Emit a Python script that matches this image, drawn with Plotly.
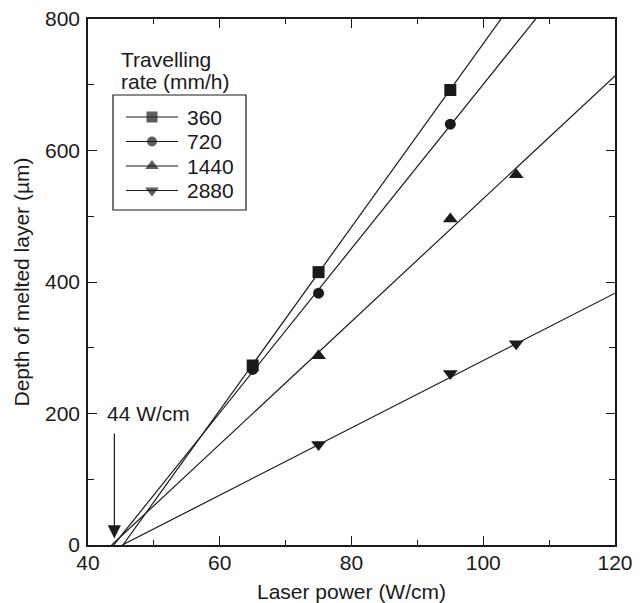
import plotly.graph_objects as go

# ---- data ----
rates = ["360", "720", "1440", "2880"]
power_360 = [65, 75, 95]
depth_360 = [273, 415, 692]
power_720 = [65, 75, 95]
depth_720 = [267, 383, 640]
power_1440 = [75, 95, 105]
depth_1440 = [288, 496, 563]
power_2880 = [75, 95, 105]
depth_2880 = [153, 261, 306]

# linear fits (x-intercept in W/cm, slope in um per W/cm)
fit_x0 = [45.3, 43.9, 43.6, 45.2]
fit_slope = [13.94, 12.49, 9.34, 5.12]

threshold_power = 44
x_range = [40, 120]
y_range = [0, 800]
x_ticks = [40, 60, 80, 100, 120]
y_ticks = [0, 200, 400, 600, 800]

powers = [power_360, power_720, power_1440, power_2880]
depths = [depth_360, depth_720, depth_1440, depth_2880]
symbols = ["square", "circle", "triangle-up", "triangle-down"]
sizes = [12, 11, 13, 13]

INK = "#1a1a1a"
FONT = "Liberation Sans, Arial, Helvetica, sans-serif"
FS = 21

# ---- layout geometry (pixels) ----
W, H = 644, 603
ML, MR, MT, MB = 88, 29, 19, 58
PW, PH = W - ML - MR, H - MT - MB


def px2x(px):
    return (px - ML) / PW


def py2y(py):
    return (H - MB - py) / PH


fig = go.Figure()

for i, r in enumerate(rates):
    # fitted line
    xs = [fit_x0[i], x_range[1]]
    ys = [fit_slope[i] * (x - fit_x0[i]) for x in xs]
    fig.add_trace(go.Scatter(x=xs, y=ys, mode="lines",
                             line=dict(color=INK, width=1.2),
                             hoverinfo="skip", name=r + " fit"))
    # measured points
    fig.add_trace(go.Scatter(x=powers[i], y=depths[i], mode="markers", name=r,
                             marker=dict(symbol=symbols[i], size=sizes[i], color=INK,
                                         line=dict(width=0)),
                             cliponaxis=False))

# ---- hand-drawn legend (overlay axes in plot-fraction units) ----
leg_box = (113, 95, 246, 210)
row0, row_gap = 117, 24.5
line_x0, line_x1, text_x = 126, 178, 185
for i, r in enumerate(rates):
    yy = py2y(row0 + i * row_gap)
    fig.add_trace(go.Scatter(
        x=[px2x(line_x0), px2x((line_x0 + line_x1) / 2), px2x(line_x1)],
        y=[yy, yy, yy], xaxis="x2", yaxis="y2", mode="lines+markers",
        line=dict(color=INK, width=1.2),
        marker=dict(symbol=symbols[i], size=[0, sizes[i] - 1, 0], color=INK, line=dict(width=0)),
        hoverinfo="skip", name=r + " legend"))
    fig.add_annotation(text=r, xref="paper", yref="paper", x=px2x(text_x), y=yy,
                       xanchor="left", yanchor="middle", showarrow=False,
                       font=dict(family=FONT, size=FS, color=INK))

fig.add_shape(type="rect", xref="paper", yref="paper",
              x0=px2x(leg_box[0]), x1=px2x(leg_box[2]),
              y0=py2y(leg_box[3]), y1=py2y(leg_box[1]),
              line=dict(color=INK, width=1.2))

# legend title (outside the box)
fig.add_annotation(text="Travelling", xref="paper", yref="paper", x=px2x(119), y=py2y(60),
                   xanchor="left", yanchor="middle", showarrow=False,
                   font=dict(family=FONT, size=FS, color=INK))
fig.add_annotation(text="rate (mm/h)", xref="paper", yref="paper", x=px2x(119), y=py2y(82),
                   xanchor="left", yanchor="middle", showarrow=False,
                   font=dict(family=FONT, size=FS, color=INK))

axis_common = dict(
    showline=True, linecolor=INK, linewidth=1.5, mirror="ticks",
    ticks="inside", ticklen=9, tickwidth=1.2, tickcolor=INK,
    showgrid=False, zeroline=False, automargin=False,
    tickfont=dict(family=FONT, size=FS, color=INK),
)

fig.update_layout(
    xaxis=dict(range=x_range, tickvals=x_ticks,
               minor=dict(dtick=10, ticks="inside", ticklen=5, tickwidth=1.2, tickcolor=INK),
               title=dict(text="Laser power (W/cm)", font=dict(family=FONT, size=FS, color=INK),
                          standoff=14),
               ticklabelstandoff=-2,
               **axis_common),
    yaxis=dict(range=y_range, tickvals=y_ticks,
               minor=dict(dtick=100, ticks="inside", ticklen=6, tickwidth=1.2, tickcolor=INK),
               title=dict(text="Depth of melted layer (µm)", font=dict(family=FONT, size=FS, color=INK),
                          standoff=10),
               ticklabelstandoff=2,
               **axis_common),
    xaxis2=dict(overlaying="x", range=[0, 1], visible=False, fixedrange=True),
    yaxis2=dict(overlaying="y", range=[0, 1], visible=False, fixedrange=True),
)

# threshold arrow
fig.add_annotation(x=threshold_power, y=10, ax=threshold_power, ay=172,
                   xref="x", yref="y", axref="x", ayref="y", text="",
                   showarrow=True, arrowhead=2, arrowsize=2.2, arrowwidth=1.2, arrowcolor=INK)
fig.add_annotation(x=42.6, y=200, xref="x", yref="y", text=f"{threshold_power} W/cm",
                   xanchor="left", yanchor="middle", showarrow=False,
                   font=dict(family=FONT, size=FS, color=INK))

fig.update_layout(
    width=W, height=H,
    margin=dict(l=ML, r=MR, t=MT, b=MB),
    paper_bgcolor="white", plot_bgcolor="white",
    font=dict(family=FONT, size=FS, color=INK),
    showlegend=False,
)

fig.write_html("out.html", config={"displayModeBar": False},
               post_script="document.body.style.margin='0px';")
